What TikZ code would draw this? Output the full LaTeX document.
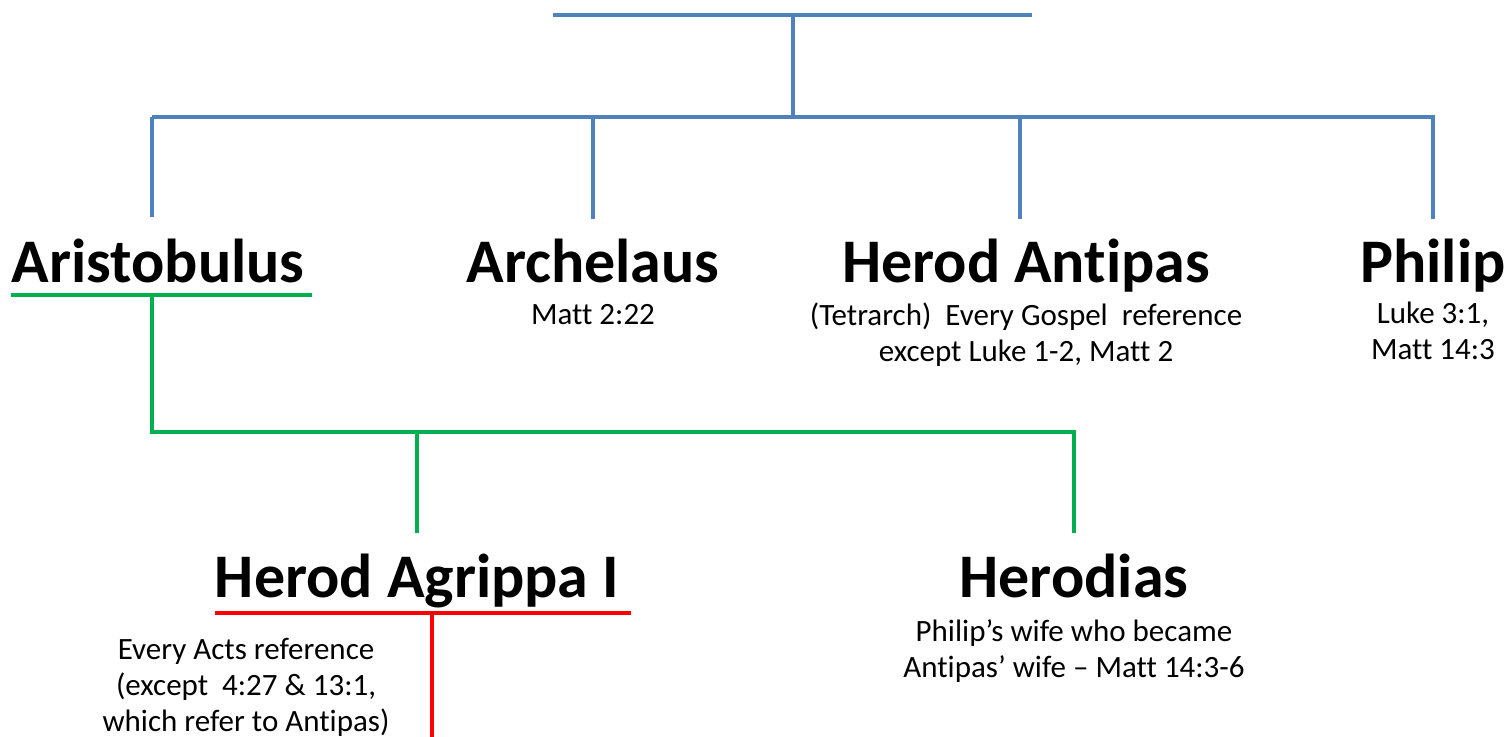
\documentclass[tikz,border=0pt]{standalone}
\usepackage{fontspec}
\setmainfont{Carlito}[Ligatures=NoCommon]
\usetikzlibrary{positioning}

\definecolor{lineblue}{RGB}{79,129,189}
\definecolor{linegreen}{RGB}{0,176,80}
\definecolor{linered}{RGB}{255,0,0}

\begin{document}
\begin{tikzpicture}[x=0.5pt, y=-0.5pt,
  person/.style={font=\fontsize{31}{37}\selectfont\bfseries, inner sep=0pt, anchor=base},
  refs/.style={font=\fontsize{15.5}{18}\selectfont, inner sep=0pt, align=center, anchor=base},
  blueline/.style={line width=2pt, draw=lineblue},
  greenline/.style={line width=2.2pt, draw=linegreen},
  redline/.style={line width=2pt, draw=linered}]

\def\width{1510}
\def\height{737}
\path [use as bounding box] (0,0) rectangle (\width,\height);

% NAMES
\node [person] (arist) at (158,283) {Aristobulus};
\node [person] (arche) at (593,283) {Archelaus};
\node [person] (antip) at (1026,283) {Herod Antipas};
\node [person] (phil) at (1433,283) {Philip};
\node [person] (agrip) at (417,597) {Herod Agrippa I};
\node [person] (herodias) at (1074,597) {Herodias};

% REFERENCES (base = last line)
\node [refs] (arche-r) at (593,325) {Matt 2:22};
\node [refs] (antip-r) at (1026,362) {(Tetrarch)\ \ Every Gospel\ \ reference\\except Luke 1-2, Matt 2};
\node [refs] (phil-r) at (1433,360) {Luke 3:1,\\Matt 14:3};
\node [refs] (agrip-r) at (246,731) {Every Acts reference\\(except\ \ 4:27 \& 13:1,\\which refer to Antipas)};
\node [refs] (herodias-r) at (1074,677) {Philip’s wife who became\\Antipas’ wife -- Matt 14:3-6};

% HEROD
\coordinate (bar-l) at (553,15);
\coordinate (bar-r) at (1032,15);
\coordinate (bar-m) at (793,15);
\coordinate (sons) at (793,117);
\draw [blueline] (bar-l) -- (bar-r);
\draw [blueline] (bar-m) -- (sons);
\draw [blueline] (sons -| 152,0) -- (sons -| 1435,0);
\draw [blueline] (sons -| 152,0) -- (152,217);
\draw [blueline, shorten >=10pt] (sons -| arche) -- (arche.north);
\draw [blueline, shorten >=10pt] (sons -| 1020,0) -- (antip.north -| 1020,0);
\draw [blueline, shorten >=10pt] (sons -| phil) -- (phil.north);

% ARISTOBULUS
\coordinate (arist-u) at (152,295);
\coordinate (kids) at (152,432);
\draw [greenline] ([yshift=-6pt]arist.base west) -- ([xshift=3.5pt,yshift=-6pt]arist.base east);
\draw [greenline] (arist-u) -- (kids) -- (kids -| herodias) -- ([yshift=10pt]herodias.north);
\draw [greenline, shorten >=10pt] (kids -| agrip) -- (agrip.north);

% AGRIPPA
\coordinate (heir) at (432,737);
\draw [redline] ([yshift=-8pt]agrip.base west) -- ([xshift=6pt,yshift=-8pt]agrip.base east);
\draw [redline] (heir |- 0,613) -- (heir);

\end{tikzpicture}
\end{document}
